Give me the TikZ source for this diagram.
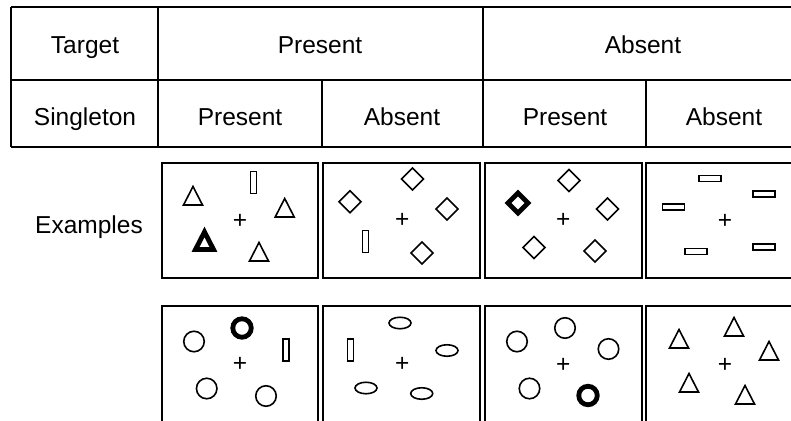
\documentclass[tikz,border=0pt]{standalone}
\usepackage{fontspec}
\setmainfont{Liberation Sans}
\usetikzlibrary{shapes.geometric}

\begin{document}
\begin{tikzpicture}[x=1pt, y=-1pt,
    font=\fontsize{24.5}{28}\selectfont,
    rule/.style={line width=2pt},
    panel/.style={line width=2.4pt},
    obj/.style={draw, line width=1.6pt, inner sep=0pt, outer sep=0pt},
    heavy/.style={line width=4.8pt},
    bar/.style={obj, rectangle, minimum width=6, minimum height=22},
    flat/.style={obj, rectangle, minimum width=22, minimum height=6},
    ring/.style={obj, circle, minimum size=20.5},
    oval/.style={obj, ellipse, minimum width=22, minimum height=11.5},
    rhomb/.style={obj, diamond, minimum size=22},
    cross/.style={inner sep=0pt},
    label/.style={anchor=base},
    tri/.pic={\draw[line join=miter] (-9.5,9) -- (9.5,9) -- (0,-9.5) -- cycle;}
]
\useasboundingbox (0,0) rectangle (791,420);
\clip (0,0) rectangle (791,420);

% Table
\draw[rule] (11,7) -- (810,7);
\draw[rule] (11,80) -- (810,80);
\draw[rule] (11,147) -- (810,147);
\draw[rule] (11,7) -- (11,147);
\draw[rule] (158,7) -- (158,147);
\draw[rule] (483,7) -- (483,147);
\draw[rule] (322,80) -- (322,147);
\draw[rule] (646,80) -- (646,147);

\node[label] (target) at (85,53) {Target};
\node[label] (tpres) at (320,53) {Present};
\node[label] (tabs) at (643,53) {Absent};
\node[label] (single) at (85,125) {Singleton};
\node[label] (spres1) at (240,125) {Present};
\node[label] (sabs1) at (402,125) {Absent};
\node[label] (spres2) at (565,125) {Present};
\node[label] (sabs2) at (724,125) {Absent};
\node[label] (examples) at (89,233) {Examples};

% Panels
\draw[panel] (162,163) rectangle (318,278);
\draw[panel] (323,163) rectangle (480,278);
\draw[panel] (485,163) rectangle (642,278);
\draw[panel] (646,163) rectangle (803,278);
\draw[panel] (162,306) rectangle (318,430);
\draw[panel] (323,306) rectangle (480,430);
\draw[panel] (485,306) rectangle (642,430);
\draw[panel] (646,306) rectangle (803,430);

% Row 1, target present, singleton present
\pic[obj] (a1) at (193,196) {tri};
\node[bar] (a2) at (253.5,182.5) {};
\pic[obj] (a3) at (284.7,208) {tri};
\node[cross] (fa) at (240,221.7) {+};
\pic[obj, heavy, scale=0.95] (a4) at (204.5,241) {tri};
\pic[obj] (a5) at (259,252) {tri};

% Row 1, target present, singleton absent
\node[rhomb] (b1) at (412.5,179) {};
\node[rhomb] (b2) at (350,201.7) {};
\node[rhomb] (b3) at (447,209) {};
\node[cross] (fb) at (402.3,220.7) {+};
\node[bar] (b4) at (365.3,241.5) {};
\node[rhomb] (b5) at (422,253) {};

% Row 1, target absent, singleton present
\node[rhomb] (c1) at (569,180.5) {};
\node[rhomb, heavy, minimum size=20] (c2) at (518,203) {};
\node[rhomb] (c3) at (607.5,209) {};
\node[cross] (fc) at (563.3,220.7) {+};
\node[rhomb] (c4) at (534,247.5) {};
\node[rhomb] (c5) at (595,251) {};

% Row 1, target absent, singleton absent
\node[flat] (d1) at (710,178.3) {};
\node[flat] (d2) at (764,194) {};
\node[flat] (d3) at (673.3,207) {};
\node[cross] (fd) at (725,221.7) {+};
\node[flat] (d4) at (696,251.3) {};
\node[flat] (d5) at (764,246.7) {};

% Row 2, target present, singleton present
\node[ring] (e1) at (194,341.5) {};
\node[ring, heavy, minimum size=18.5] (e2) at (242,328) {};
\node[bar] (e3) at (286,350) {};
\node[cross] (fe) at (240,364) {+};
\node[ring] (e4) at (206.7,388.5) {};
\node[ring] (e5) at (266,396) {};

% Row 2, target present, singleton absent
\node[oval] (g1) at (400,323) {};
\node[bar] (g2) at (350.5,350) {};
\node[oval] (g3) at (447,350.5) {};
\node[cross] (fg) at (402.3,364) {+};
\node[oval] (g4) at (366,388) {};
\node[oval] (g5) at (421.7,393.5) {};

% Row 2, target absent, singleton present
\node[ring] (h1) at (517,341.5) {};
\node[ring] (h2) at (565,328) {};
\node[ring] (h3) at (608.5,349) {};
\node[cross] (fh) at (563.3,365) {+};
\node[ring] (h4) at (529.5,388.5) {};
\node[ring, heavy, minimum size=18.5] (h5) at (588,395.5) {};

% Row 2, target absent, singleton absent
\pic[obj] (k1) at (679,339) {tri};
\pic[obj] (k2) at (734,327) {tri};
\pic[obj] (k3) at (769,351) {tri};
\node[cross] (fk) at (725,365) {+};
\pic[obj] (k4) at (689,383) {tri};
\pic[obj] (k5) at (745,395) {tri};

\end{tikzpicture}
\end{document}
